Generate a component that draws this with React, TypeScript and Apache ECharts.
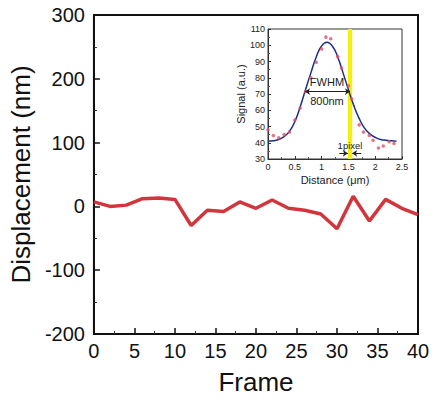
import React, { useEffect, useRef } from "react";
import * as echarts from "echarts";

// Main chart data
const frames = [0, 2, 4, 6, 8, 10, 12, 14, 16, 18, 20, 22, 24, 26, 28, 30, 32, 34, 36, 38, 40];
const displacement = [7, 0, 2, 12, 13, 11, -30, -6, -8, 7, -3, 10, -3, -6, -12, -35, 16, -23, 11, -3, -13];

// Inset data: measured signal points
const distDots = [0, 0.1, 0.2, 0.3, 0.4, 0.5, 0.6, 0.7, 0.8, 0.9, 1.0, 1.08, 1.17, 1.3, 1.37, 1.5, 1.56, 1.7, 1.78, 1.89, 1.96, 2.06, 2.15, 2.26, 2.35];
const signalDots = [48, 44.5, 43, 45, 46.6, 54, 61.4, 71.6, 80, 89.5, 97.7, 105, 104, 93, 86, 75, 67, 51, 46.6, 44.5, 41.5, 36.8, 38, 40.6, 39.5];

// Inset data: fitted curve
const distFit = [0, 0.1, 0.2, 0.3, 0.4, 0.5, 0.6, 0.7, 0.8, 0.9, 1.0, 1.1, 1.2, 1.3, 1.4, 1.5, 1.6, 1.7, 1.8, 1.9, 2.0, 2.1, 2.2, 2.3, 2.4];
const signalFit = [41, 41.2, 42, 43.8, 47, 53, 62, 72.7, 83, 92.8, 99.5, 101.8, 99.5, 92.8, 83, 72.7, 63, 55, 49, 45.5, 43.3, 42, 41.5, 41.2, 41];

const mainXTicks = { min: 0, max: 40, interval: 5 };
const mainYTicks = { min: -200, max: 300, interval: 100 };
const insetXTicks = { min: 0, max: 2.5, interval: 0.5 };
const insetYTicks = { min: 30, max: 110, interval: 10 };

const pixelBand = [1.49, 1.57];
const fwhmSpan = [0.69, 1.53];
const fwhmLevel = 71.5;

export default function App() {
  const ref = useRef<HTMLDivElement>(null);
  useEffect(() => {
    document.body.style.margin = "0";
    const chart = echarts.init(ref.current!, null, { renderer: "svg" });
    const font = "Liberation Sans, Arial, sans-serif";
    const ax = (extra: any) => ({
      axisLine: { show: true, onZero: false, lineStyle: { color: "#111", width: 2 } },
      axisTick: { show: true, inside: true, length: 6, lineStyle: { color: "#111", width: 1.5 } },
      minorTick: { show: true, splitNumber: 2, length: 3, lineStyle: { color: "#333" } },
      splitLine: { show: false },
      ...extra,
    });
    const iax = (extra: any) => ({
      axisLine: { show: true, onZero: false, lineStyle: { color: "#333", width: 1 } },
      axisTick: { show: true, inside: true, length: 3, lineStyle: { color: "#333" } },
      minorTick: { show: true, splitNumber: 2, length: 2, lineStyle: { color: "#555" } },
      splitLine: { show: false },
      ...extra,
    });
    chart.setOption({
      animation: false,
      backgroundColor: "#fff",
      grid: [
        { left: 93, right: 19, top: 15, bottom: 59, show: true, borderColor: "#111", borderWidth: 2 },
        { left: 268, right: 35, top: 29, bottom: 241, show: true, borderColor: "#333", borderWidth: 1, backgroundColor: "#fff" },
      ],
      xAxis: [
        ax({
          type: "value", gridIndex: 0, ...mainXTicks,
          name: "Frame", nameLocation: "middle", nameGap: 35,
          nameTextStyle: { fontFamily: font, fontSize: 26, color: "#111" },
          axisLabel: { fontFamily: font, fontSize: 20, color: "#111", margin: 7 },
        }),
        iax({
          type: "value", gridIndex: 1, ...insetXTicks,
          name: "Distance (μm)", nameLocation: "middle", nameGap: 15,
          nameTextStyle: { fontFamily: font, fontSize: 11, color: "#222" },
          axisLabel: { fontFamily: font, fontSize: 9, color: "#222", margin: 3 },
        }),
      ],
      yAxis: [
        ax({
          type: "value", gridIndex: 0, ...mainYTicks,
          name: "Displacement (nm)", nameLocation: "middle", nameGap: 54,
          nameTextStyle: { fontFamily: font, fontSize: 26, color: "#111" },
          axisLabel: { fontFamily: font, fontSize: 20, color: "#111", margin: 9 },
        }),
        iax({
          type: "value", gridIndex: 1, ...insetYTicks,
          name: "Signal (a.u.)", nameLocation: "middle", nameGap: 21,
          nameTextStyle: { fontFamily: font, fontSize: 11, color: "#222" },
          axisLabel: { fontFamily: font, fontSize: 9, color: "#222", margin: 3 },
        }),
      ],
      series: [
        {
          type: "line", xAxisIndex: 0, yAxisIndex: 0,
          data: frames.map((f, i) => [f, displacement[i]]),
          showSymbol: false, lineStyle: { color: "#d2353c", width: 3.5 },
        },
        {
          type: "line", xAxisIndex: 1, yAxisIndex: 1,
          data: distFit.map((d, i) => [d, signalFit[i]]),
          showSymbol: false, smooth: true, lineStyle: { color: "#1c2f86", width: 1.5 },
          z: 3,
          markArea: {
            silent: true,
            itemStyle: { color: "#f5f00a", opacity: 1 },
            data: [[{ xAxis: pixelBand[0] }, { xAxis: pixelBand[1] }]],
          },
          markLine: {
            silent: true, symbol: ["arrow", "arrow"], symbolSize: 5,
            lineStyle: { color: "#222", width: 1, type: "solid" },
            label: { show: false },
            data: [
              [{ coord: [fwhmSpan[0], fwhmLevel] }, { coord: [fwhmSpan[1], fwhmLevel] }],
              [{ coord: [1.33, 33.5], symbol: "none" }, { coord: [pixelBand[0], 33.5], symbol: "arrow" }],
              [{ coord: [1.74, 33.5], symbol: "none" }, { coord: [pixelBand[1], 33.5], symbol: "arrow" }],
            ],
          },
          markPoint: {
            silent: true, symbol: "circle", symbolSize: 0,
            label: { show: true, fontFamily: font, fontSize: 11, color: "#222" },
            data: [
              { coord: [1.1, 77.5], label: { formatter: "FWHM" } },
              { coord: [1.1, 65.5], label: { formatter: "800nm" } },
              { coord: [1.53, 38.5], label: { formatter: "1pixel", fontSize: 9.5 } },
            ],
          },
        },
        {
          type: "scatter", xAxisIndex: 1, yAxisIndex: 1,
          data: distDots.map((d, i) => [d, signalDots[i]]),
          symbolSize: 3.5, itemStyle: { color: "#e0506a" }, z: 4,
        },
      ],
    });
    return () => chart.dispose();
  }, []);
  return <div ref={ref} style={{ width: 437, height: 400 }} />;
}
